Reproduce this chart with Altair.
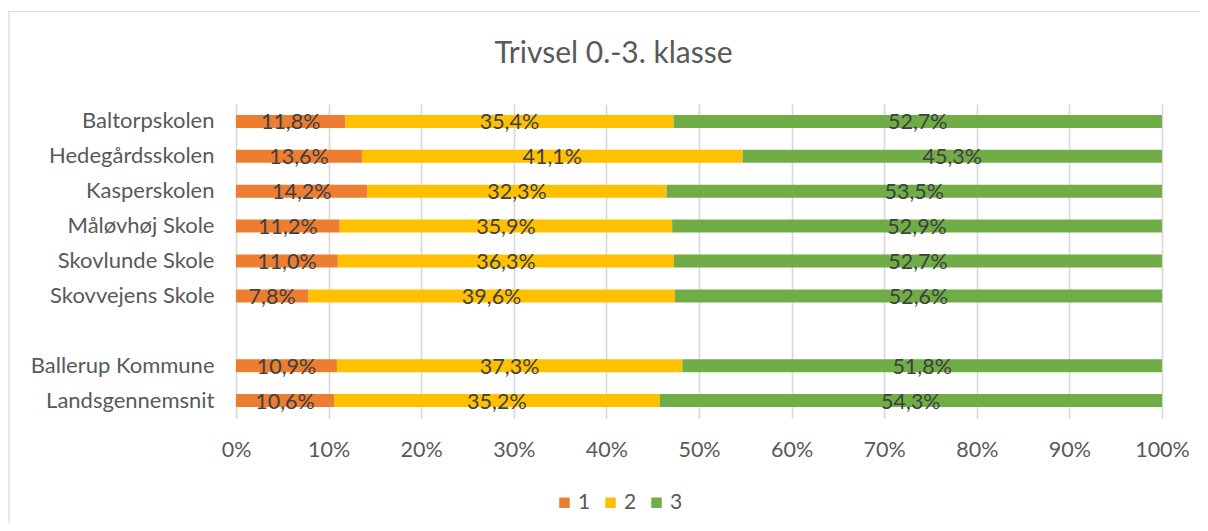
import altair as alt
import pandas as pd

title_text = "Trivsel 0.-3. klasse"
schools = ["Baltorpskolen", "Hedegårdsskolen", "Kasperskolen", "Måløvhøj Skole",
           "Skovlunde Skole", "Skovvejens Skole ", " ", "Ballerup Kommune", "Landsgennemsnit"]
data_schools = ["Baltorpskolen", "Hedegårdsskolen", "Kasperskolen", "Måløvhøj Skole",
                "Skovlunde Skole", "Skovvejens Skole ", "Ballerup Kommune", "Landsgennemsnit"]
v1 = [11.8, 13.6, 14.2, 11.2, 11.0, 7.8, 10.9, 10.6]
v2 = [35.4, 41.1, 32.3, 35.9, 36.3, 39.6, 37.3, 35.2]
v3 = [52.7, 45.3, 53.5, 52.9, 52.7, 52.6, 51.8, 54.3]
series = ["1", "2", "3"]
colors = ["#ED7D31", "#FFC000", "#70AD47"]

rows = []
for i, s in enumerate(data_schools):
    for k, vals in enumerate([v1, v2, v3]):
        rows.append({"skole": s, "serie": series[k], "ordre": k, "value": vals[i]})
df = pd.DataFrame(rows)

FONT = "Lato"
W, H = 926, 314

base = alt.Chart(df).transform_joinaggregate(
    total="sum(value)", groupby=["skole"]
).transform_window(
    cum="sum(value)", sort=[alt.SortField("ordre")], groupby=["skole"], frame=[None, 0]
).transform_calculate(
    end="datum.cum / datum.total",
    start="(datum.cum - datum.value) / datum.total",
    mid="(2*datum.cum - datum.value) / (2*datum.total)",
    label="replace(format(datum.value, '.1f'), '.', ',') + '%'",
)

yenc = alt.Y("skole:N", scale=alt.Scale(domain=schools, paddingInner=0, paddingOuter=0),
             axis=alt.Axis(title=None, domain=False, ticks=False, labelPadding=22,
                           labelFontSize=22, labelColor="#595959", labelFont=FONT,
                           labelBaseline="alphabetic", labelOffset=7, labelLimit=400))

bars = base.mark_bar(size=13).encode(
    x=alt.X("start:Q", scale=alt.Scale(domain=[0, 1], nice=False),
            axis=alt.Axis(title=None, format=".0%", values=[i / 10 for i in range(11)],
                          grid=True, gridColor="#D9D9D9", gridWidth=1.7, domain=False,
                          ticks=False, labelPadding=21, labelFontSize=21.5, labelFlush=False,
                          labelColor="#595959", labelFont=FONT)),
    x2="end:Q",
    y=yenc,
    color=alt.Color("serie:N", scale=alt.Scale(domain=series, range=colors),
                    legend=alt.Legend(title=None, orient="none", direction="horizontal",
                                      legendX=318, legendY=388, symbolType="square",
                                      symbolSize=110, symbolStrokeWidth=0,
                                      labelFontSize=21, labelColor="#595959", labelFont=FONT,
                                      labelOffset=3, columnPadding=9)),
)

texts = base.mark_text(fontSize=21.5, color="#404040", font=FONT, baseline="alphabetic", dy=8).encode(
    x=alt.X("mid:Q"),
    y=alt.Y("skole:N"),
    text="label:N",
)

border = alt.Chart(pd.DataFrame({"a": [0]})).mark_rect(
    fill=None, stroke="#D9D9D9", strokeWidth=1.2
).encode(x=alt.value(-227), x2=alt.value(1100), y=alt.value(-92.5), y2=alt.value(600))

title = alt.Chart(pd.DataFrame({"t": [title_text]})).mark_text(
    fontSize=30, font=FONT, color="#595959", baseline="alphabetic", align="center"
).encode(x=alt.value(613.5 - 236), y=alt.value(62.5 - 104), text="t:N")

chart = alt.layer(border, bars, texts, title).properties(
    width=W, height=H,
    autosize=alt.AutoSizeParams(type="none"),
    padding={"left": 228, "top": 96, "right": 38, "bottom": 105},
).configure_view(stroke=None)

chart.save("out.html", embed_options={"renderer": "svg", "actions": False})
